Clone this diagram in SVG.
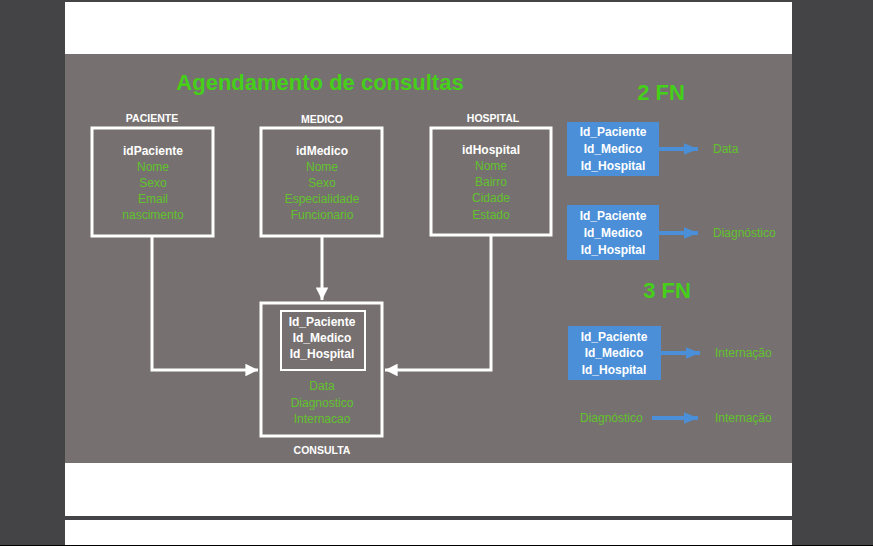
<svg xmlns="http://www.w3.org/2000/svg" width="873" height="546" viewBox="0 0 873 546">
<style>
  text { font-family: "Liberation Sans", Arial, sans-serif; text-anchor: middle; }
  .lbl { font-size: 10.5px; font-weight: bold; fill: #ffffff; }
  .key { font-size: 12px; font-weight: bold; fill: #ffffff; }
  .att { font-size: 12px; fill: #62c22c; }
  .big { font-size: 22px; font-weight: bold; fill: #45cf19; }
  .ent { fill: none; stroke: #ffffff; stroke-width: 3; }
  .conn { fill: none; stroke: #ffffff; stroke-width: 3; }
  .blue { fill: #4a8fd8; }
  .barrow { stroke: #4a8fd8; stroke-width: 4; }
  .green { font-size: 12px; fill: #62c22c; text-anchor: start; }
</style>
<defs>
  <marker id="wa" viewBox="0 0 10 10" refX="10" refY="5" markerWidth="4.2" markerHeight="4.2" markerUnits="strokeWidth" orient="auto">
    <path d="M0,0 L10,5 L0,10 Z" fill="#ffffff"/>
  </marker>
  <marker id="ba" viewBox="0 0 12 10" refX="12" refY="5" markerWidth="3.6" markerHeight="3" markerUnits="strokeWidth" orient="auto">
    <path d="M0,0 L12,5 L0,10 Z" fill="#4a8fd8"/>
  </marker>
</defs>
<!-- screen background -->
<rect x="0" y="0" width="873" height="546" fill="#444346"/>
<rect x="65" y="2" width="727" height="52" fill="#ffffff"/>
<rect x="65" y="54" width="727" height="409" fill="#767170"/>
<rect x="65" y="463" width="727" height="53" fill="#ffffff"/>
<rect x="65" y="520" width="727" height="25" fill="#ffffff"/>
<rect x="0" y="545" width="873" height="1" fill="#000000"/>

<text class="big" x="320" y="90">Agendamento de consultas</text>
<text class="big" x="661" y="100">2 FN</text>
<text class="big" x="667" y="298">3 FN</text>

<g id="connectors">
  <polyline class="conn" points="152,237 152,370 258,370" marker-end="url(#wa)"/>
  <line class="conn" x1="322" y1="237" x2="322" y2="300" marker-end="url(#wa)"/>
  <polyline class="conn" points="491,236 491,370 385,370" marker-end="url(#wa)"/>
  <line class="barrow" x1="659" y1="149" x2="698" y2="149" marker-end="url(#ba)"/>
  <line class="barrow" x1="659" y1="233" x2="698" y2="233" marker-end="url(#ba)"/>
  <line class="barrow" x1="661" y1="353" x2="700" y2="353" marker-end="url(#ba)"/>
  <line class="barrow" x1="652" y1="418" x2="698" y2="418" marker-end="url(#ba)"/>
</g>

<g id="paciente">
  <text class="lbl" x="152" y="122">PACIENTE</text>
  <rect class="ent" x="92" y="128" width="121" height="108"/>
  <text class="key" x="153" y="155">idPaciente</text>
  <text class="att" x="153" y="171">Nome</text>
  <text class="att" x="153" y="187">Sexo</text>
  <text class="att" x="153" y="203">Email</text>
  <text class="att" x="153" y="219">nascimento</text>
</g>

<g id="medico">
  <text class="lbl" x="322" y="123">MEDICO</text>
  <rect class="ent" x="261" y="128" width="121" height="108"/>
  <text class="key" x="322" y="155">idMedico</text>
  <text class="att" x="322" y="171">Nome</text>
  <text class="att" x="322" y="187">Sexo</text>
  <text class="att" x="322" y="203">Especialidade</text>
  <text class="att" x="322" y="219">Funcionario</text>
</g>

<g id="hospital">
  <text class="lbl" x="493" y="122">HOSPITAL</text>
  <rect class="ent" x="431" y="128" width="120" height="107"/>
  <text class="key" x="491" y="154">idHospital</text>
  <text class="att" x="491" y="170">Nome</text>
  <text class="att" x="491" y="186">Bairro</text>
  <text class="att" x="491" y="202">Cidade</text>
  <text class="att" x="491" y="219">Estado</text>
</g>

<g id="consulta">
  <rect class="ent" x="261" y="303" width="121" height="133"/>
  <rect x="281" y="311" width="84" height="59" fill="none" stroke="#ffffff" stroke-width="2"/>
  <text class="key" x="322" y="326">Id_Paciente</text>
  <text class="key" x="322" y="342">Id_Medico</text>
  <text class="key" x="322" y="358">Id_Hospital</text>
  <text class="att" x="322" y="390">Data</text>
  <text class="att" x="322" y="407">Diagnostico</text>
  <text class="att" x="322" y="423">Internacao</text>
  <text class="lbl" x="322" y="454">CONSULTA</text>
</g>

<g id="fn2-data">
  <rect class="blue" x="567" y="122" width="92" height="54"/>
  <text class="key" x="613" y="136">Id_Paciente</text>
  <text class="key" x="613" y="153">Id_Medico</text>
  <text class="key" x="613" y="170">Id_Hospital</text>
  <text class="green" x="713" y="153">Data</text>
</g>

<g id="fn2-diag">
  <rect class="blue" x="567" y="205" width="92" height="55"/>
  <text class="key" x="613" y="220">Id_Paciente</text>
  <text class="key" x="613" y="237">Id_Medico</text>
  <text class="key" x="613" y="254">Id_Hospital</text>
  <text class="green" x="713" y="237">Diagnóstico</text>
</g>

<g id="fn3-intern">
  <rect class="blue" x="568" y="326" width="93" height="54"/>
  <text class="key" x="614" y="341">Id_Paciente</text>
  <text class="key" x="614" y="357">Id_Medico</text>
  <text class="key" x="614" y="374">Id_Hospital</text>
  <text class="green" x="715" y="357">Internação</text>
</g>

<g id="fn3-diag">
  <text class="green" x="580" y="422">Diagnóstico</text>
  <text class="green" x="715" y="422">Internação</text>
</g>
</svg>
